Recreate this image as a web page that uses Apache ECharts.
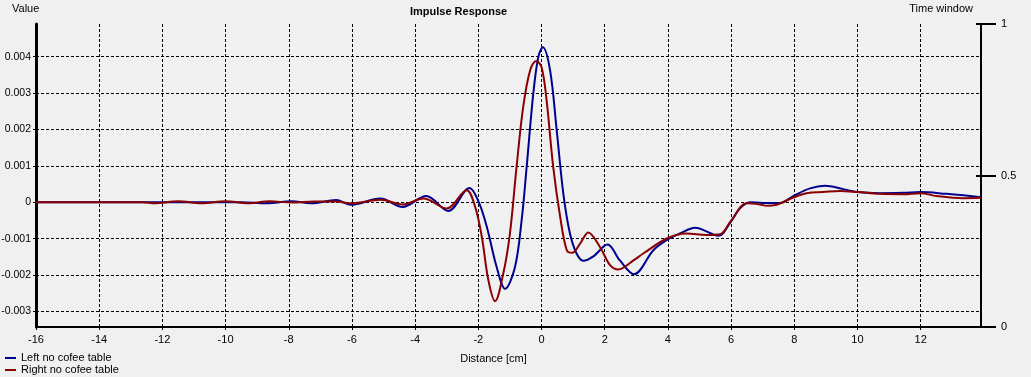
<!DOCTYPE html>
<html>
<head>
<meta charset="utf-8">
<script src="https://cdn.jsdelivr.net/npm/echarts@6/dist/echarts.min.js"></script>
<style>
html,body{margin:0;padding:0;background:#f0f0f0;}
#c{width:1031px;height:377px;}
</style>
</head>
<body>
<div id="c"></div>
<script>
// ---- data (distance in cm, value) ----
const leftX = [-16, -12, -9.5, -8.7, -7.9, -7.3, -6.5, -6.05, -5.1, -4.4, -3.65, -2.95, -2.28, -1.99, -1.73, -1.42, -1.15, -0.84, -0.63, -0.47, -0.26, -0.10, 0.04, 0.27, 0.48, 0.69, 0.90, 1.11, 1.32, 1.64, 2.09, 2.48, 2.93, 3.54, 3.98, 4.38, 4.86, 5.6, 5.99, 6.28, 6.6, 7.0, 7.55, 7.97, 8.5, 8.97, 9.55, 10.0, 10.7, 11.45, 12.0, 12.82, 13.35, 13.91];
const leftY = [0, 0, 0, -0.00003, 0.00003, -0.00003, 0.00006, -0.00007, 0.0001, -0.00013, 0.00017, -0.00024, 0.00039, 0.00001, -0.00068, -0.00178, -0.00238, -0.00178, -0.0005, 0.00097, 0.00299, 0.004, 0.00426, 0.00363, 0.00198, 0.00024, -0.00086, -0.00141, -0.00161, -0.00149, -0.00116, -0.0016, -0.00198, -0.00132, -0.00103, -0.00086, -0.0007, -0.00092, -0.00054, -0.00017, 0, -0.00002, -0.00002, 0.00017, 0.00038, 0.00045, 0.00036, 0.00028, 0.00025, 0.00026, 0.00028, 0.00023, 0.00019, 0.00014];
const rightX = [-16, -12.6, -12.25, -11.5, -10.76, -10.0, -9.28, -8.6, -7.9, -7.2, -6.5, -6.0, -5.1, -4.4, -3.74, -3.0, -2.37, -2.10, -1.89, -1.68, -1.47, -1.21, -1.0, -0.79, -0.58, -0.36, -0.17, 0.0, 0.16, 0.37, 0.59, 0.80, 0.97, 1.22, 1.48, 1.85, 2.17, 2.43, 2.91, 3.22, 3.98, 4.59, 5.23, 5.65, 5.99, 6.49, 6.91, 7.13, 7.44, 7.97, 8.39, 8.92, 9.45, 10.0, 10.71, 11.45, 12.0, 12.5, 13.35, 13.91];
const rightY = [0, 0, -0.00003, 0.00003, -0.00003, 0.00003, -0.00003, 0.00003, -0.00001, 0.00002, 0.00002, -0.00003, 0.00007, -0.00006, 0.0001, -0.00017, 0.00033, -0.00013, -0.00095, -0.00215, -0.00272, -0.00196, -0.00086, 0.00097, 0.00262, 0.00363, 0.00388, 0.00372, 0.00281, 0.00097, -0.0004, -0.00132, -0.00139, -0.00114, -0.00083, -0.00123, -0.00173, -0.00185, -0.0016, -0.00141, -0.00099, -0.00086, -0.0009, -0.00088, -0.00052, -0.00003, -0.00006, -0.0001, -0.00007, 0.00013, 0.00025, 0.00028, 0.00031, 0.00028, 0.00023, 0.00022, 0.00025, 0.00017, 0.00011, 0.00012];
const seriesNames = ['Left no cofee table', 'Right no cofee table'];
const xRange = {min: -16, max: 13.91, step: 2};
const yRange = {min: -0.00343, max: 0.0049};
const yTickValues = [-0.003, -0.002, -0.001, 0, 0.001, 0.002, 0.003, 0.004];
const windowTicks = [0, 0.5, 1];

const zip = (xs, ys) => xs.map((x, i) => [x, ys[i]]);
const FONT = 'Liberation Sans';
const dash = {color: '#000', type: [3, 2], width: 1};
const fmtY = v => (Math.abs(v) < 1e-9 ? '0' : (+(+v).toFixed(3)).toString());

const chart = echarts.init(document.getElementById('c'), null, {renderer: 'canvas'});
chart.setOption({
  backgroundColor: '#f0f0f0',
  animation: false,
  textStyle: {fontFamily: FONT, color: '#000'},
  title: {
    text: 'Impulse Response', left: 410, top: 6, padding: 0,
    textStyle: {fontFamily: FONT, fontSize: 11, fontWeight: 'bold', color: '#000'}
  },
  legend: {
    orient: 'vertical', left: 5, top: 352, itemGap: 0, padding: 0,
    itemWidth: 11, itemHeight: 2, icon: 'rect',
    textStyle: {fontFamily: FONT, fontSize: 11, color: '#000', lineHeight: 12, padding: [0, 0, 0, 0]},
    data: seriesNames
  },
  grid: {left: 36, right: 50, top: 24, bottom: 50, containLabel: false, outerBoundsMode: 'none'},
  xAxis: {
    type: 'value', min: xRange.min, max: xRange.max, interval: xRange.step,
    name: 'Distance [cm]', nameLocation: 'middle', nameGap: 26,
    nameTextStyle: {fontFamily: FONT, fontSize: 11, color: '#000', padding: [0, 0, 0, -30]},
    axisLine: {show: true, onZero: false, lineStyle: {color: '#000', width: 2}},
    axisTick: {show: true, length: 4, lineStyle: {color: '#000', type: [3, 2]}},
    axisLabel: {fontFamily: FONT, fontSize: 11, color: '#000', margin: 7, showMaxLabel: false},
    splitLine: {show: true, lineStyle: dash}
  },
  yAxis: [{
    type: 'value', min: yRange.min, max: yRange.max, position: 'left',
    name: 'Value', nameLocation: 'end', nameGap: 10,
    nameTextStyle: {fontFamily: FONT, fontSize: 11, color: '#000', align: 'left', padding: [0, 0, 0, -24]},
    axisLine: {show: true, onZero: false, lineStyle: {color: '#000', width: 3}},
    axisTick: {show: true, length: 3, lineStyle: {color: '#000'}, customValues: yTickValues},
    axisLabel: {fontFamily: FONT, fontSize: 10.5, color: '#000', margin: 5, customValues: yTickValues, formatter: fmtY},
    splitLine: {show: true, lineStyle: dash}
  }, {
    type: 'value', min: 0, max: 1, position: 'right',
    name: 'Time window', nameLocation: 'end', nameGap: 10,
    nameTextStyle: {fontFamily: FONT, fontSize: 11, color: '#000', align: 'right', padding: [0, 8, 0, 0]},
    axisLine: {show: true, onZero: false, lineStyle: {color: '#000', width: 2}},
    axisTick: {show: true, length: 15, lineStyle: {color: '#000', width: 2}, customValues: windowTicks},
    axisLabel: {fontFamily: FONT, fontSize: 11, color: '#000', margin: 20, customValues: windowTicks,
      formatter: v => String(v)},
    splitLine: {show: false}
  }, {
    type: 'value', min: 0, max: 1, position: 'right',
    axisLine: {show: false, onZero: false},
    axisTick: {show: true, inside: true, length: 5, lineStyle: {color: '#000', width: 2}, customValues: windowTicks},
    axisLabel: {show: false},
    splitLine: {show: false}
  }],
  series: [{
    name: seriesNames[0], type: 'line', yAxisIndex: 0, data: zip(leftX, leftY),
    smooth: 0.35, showSymbol: false, symbol: 'none',
    lineStyle: {color: '#00008f', width: 2}, itemStyle: {color: '#00008f'}
  }, {
    name: seriesNames[1], type: 'line', yAxisIndex: 0, data: zip(rightX, rightY),
    smooth: 0.35, showSymbol: false, symbol: 'none',
    lineStyle: {color: '#8b0000', width: 2}, itemStyle: {color: '#8b0000'}
  }]
});
</script>
</body>
</html>
